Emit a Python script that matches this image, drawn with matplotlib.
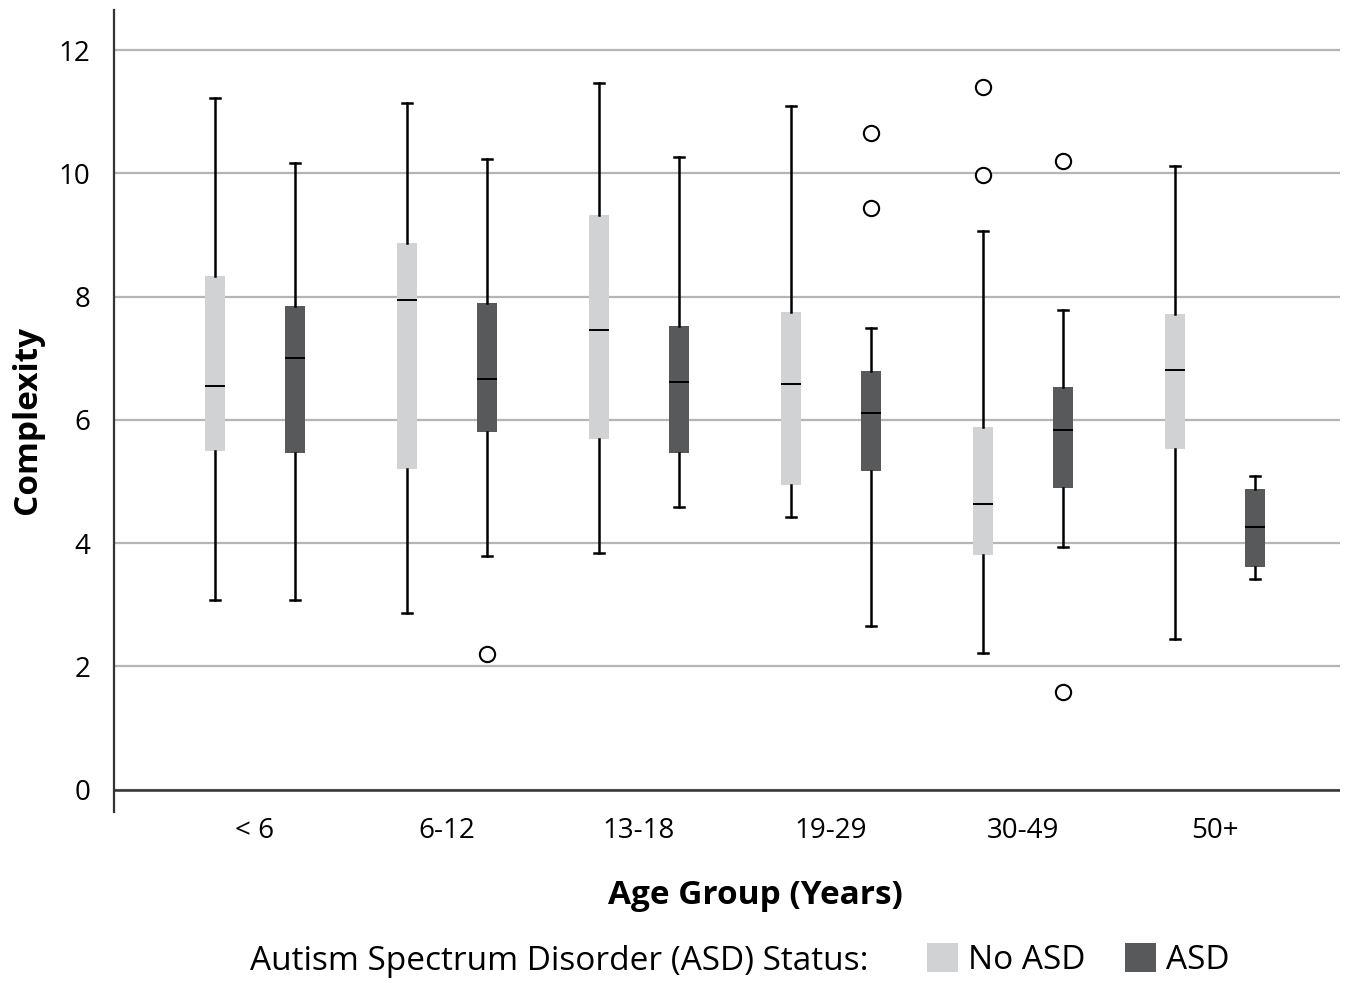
import matplotlib.pyplot as plt
from matplotlib.patches import Patch

plt.rcParams['font.family'] = ['Open Sans', 'DejaVu Sans']

groups = ['< 6', '6-12', '13-18', '19-29', '30-49', '50+']

# box stats: whisker low, Q1, median, Q3, whisker high
no_asd_low = [3.08, 2.87, 3.84, 4.43, 2.22, 2.45]
no_asd_q1 = [5.50, 5.20, 5.69, 4.95, 3.81, 5.53]
no_asd_med = [6.55, 7.95, 7.46, 6.58, 4.64, 6.81]
no_asd_q3 = [8.33, 8.87, 9.32, 7.75, 5.89, 7.72]
no_asd_high = [11.22, 11.14, 11.46, 11.10, 9.06, 10.12]
no_asd_out = [[], [], [], [], [11.40, 9.97], []]

asd_low = [3.08, 3.79, 4.59, 2.66, 3.94, 3.42]
asd_q1 = [5.46, 5.80, 5.46, 5.17, 4.90, 3.62]
asd_med = [7.00, 6.66, 6.62, 6.11, 5.84, 4.26]
asd_q3 = [7.85, 7.90, 7.52, 6.79, 6.53, 4.88]
asd_high = [10.17, 10.23, 10.26, 7.49, 7.78, 5.09]
asd_out = [[], [2.20], [], [10.65, 9.44], [10.20, 1.59], []]

light = '#d1d2d4'
dark = '#58595b'


def make_stats(lo, q1, med, q3, hi, out):
    return [dict(whislo=a, q1=b, med=c, q3=d, whishi=e, fliers=f)
            for a, b, c, d, e, f in zip(lo, q1, med, q3, hi, out)]


fig = plt.figure(figsize=(13.63, 9.83), dpi=100)
ax = fig.add_axes([0.0836, 0.174, 0.8994, 0.8158])

pos = list(range(len(groups)))
off = 0.207
w = 0.105
common = dict(widths=w, patch_artist=True, manage_ticks=False,
              whiskerprops=dict(color='black', linewidth=1.8),
              capprops=dict(color='black', linewidth=1.8),
              medianprops=dict(color='black', linewidth=1.4),
              flierprops=dict(marker='o', markersize=11, markerfacecolor='white',
                              markeredgecolor='black', markeredgewidth=1.5))

b1 = ax.bxp(make_stats(no_asd_low, no_asd_q1, no_asd_med, no_asd_q3, no_asd_high, no_asd_out),
            positions=[p - off for p in pos], zorder=3, **common)
b2 = ax.bxp(make_stats(asd_low, asd_q1, asd_med, asd_q3, asd_high, asd_out),
            positions=[p + off for p in pos], zorder=3, **common)
for b, c in ((b1, light), (b2, dark)):
    for box in b['boxes']:
        box.set_facecolor(c)
        box.set_edgecolor('none')
    for cap in b['caps']:
        x0, x1 = cap.get_xdata()
        m = (x0 + x1) / 2
        cap.set_xdata([m - w / 4, m + w / 4])

ax.set_xlim(-0.734, 5.651)
ax.set_ylim(-0.36, 12.65)
ax.set_yticks([0, 2, 4, 6, 8, 10, 12])
ax.yaxis.grid(True, color='#b5b5b5', linewidth=1.6)
ax.set_axisbelow(True)
ax.axhline(0, color='#333333', linewidth=1.8, zorder=2)
ax.set_xticks(pos)
ax.set_xticklabels(groups)
ax.tick_params(axis='both', length=0, labelsize=20, colors='black')
ax.tick_params(axis='y', pad=17)
ax.tick_params(axis='x', pad=3.5)
for s in ('top', 'right', 'bottom'):
    ax.spines[s].set_visible(False)
ax.spines['left'].set_color('#333333')
ax.spines['left'].set_linewidth(1.6)

fig.text(28 / 1363, 1 - 420 / 983, 'Complexity', fontsize=24, fontweight='bold',
         rotation=90, ha='center', va='center')
fig.text(755 / 1363, 1 - 896 / 983, 'Age Group (Years)', fontsize=24,
         fontweight='bold', ha='center', va='center')
fig.text(250 / 1363, 1 - 961 / 983, 'Autism Spectrum Disorder (ASD) Status:',
         fontsize=24, ha='left', va='center')
handles = [Patch(facecolor=light, label='No ASD'), Patch(facecolor=dark, label='ASD')]
fig.legend(handles=handles, loc='center left', bbox_to_anchor=(927 / 1363, 1 - 960 / 983),
           ncol=2, frameon=False, fontsize=24, handlelength=0.94, handleheight=0.94,
           handletextpad=0.3, columnspacing=1.18, borderpad=0, borderaxespad=0)

fig.savefig('out.png', dpi=100)
